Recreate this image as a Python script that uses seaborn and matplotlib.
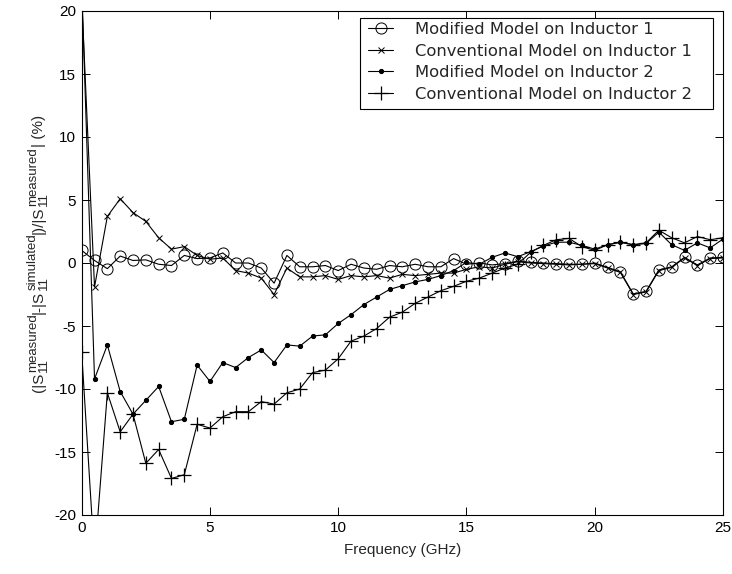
import numpy as np
import pandas as pd
import matplotlib
matplotlib.use("Agg")
import matplotlib.pyplot as plt
from matplotlib.patches import Rectangle
import seaborn as sns

# frequency grid (GHz)
freq = [0.0, 0.5, 1.0, 1.5, 2.0, 2.5, 3.0, 3.5, 4.0, 4.5,
        5.0, 5.5, 6.0, 6.5, 7.0, 7.5, 8.0, 8.5, 9.0, 9.5,
        10.0, 10.5, 11.0, 11.5, 12.0, 12.5, 13.0, 13.5, 14.0, 14.5,
        15.0, 15.5, 16.0, 16.5, 17.0, 17.5, 18.0, 18.5, 19.0, 19.5,
        20.0, 20.5, 21.0, 21.5, 22.0, 22.5, 23.0, 23.5, 24.0, 24.5, 25.0]

mod_ind1 = [1.0, 0.2, -0.45, 0.55, 0.2, 0.25, -0.1, -0.2, 0.6, 0.35,
            0.4, 0.8, 0.0, 0.0, -0.4, -1.6, 0.6, -0.3, -0.3, -0.2,
            -0.6, -0.1, -0.4, -0.5, -0.2, -0.3, -0.1, -0.3, -0.3, 0.35,
            -0.1, 0.0, -0.15, -0.05, 0.15, 0.05, 0.0, -0.05, -0.1, -0.1,
            0.0, -0.35, -0.7, -2.45, -2.25, -0.55, -0.3, 0.45, -0.15, 0.4, 0.45]

conv_ind1 = [21.0, -1.9, 3.7, 5.1, 4.0, 3.3, 2.0, 1.1, 1.3, 0.6,
             0.3, 0.4, -0.6, -0.8, -1.2, -2.5, -0.4, -1.1, -1.1, -1.0,
             -1.3, -1.0, -1.1, -1.0, -1.2, -0.9, -1.0, -0.9, -0.8, -0.8,
             -0.5, -0.3, -0.4, -0.1, 0.1, 0.0, -0.05, -0.1, -0.15, -0.1,
             -0.05, -0.4, -0.75, -2.5, -2.3, -0.6, -0.35, 0.4, -0.2, 0.35, 0.4]

mod_ind2 = [22.0, -9.2, -6.5, -10.2, -12.0, -10.9, -9.8, -12.6, -12.4, -8.1,
            -9.4, -7.9, -8.3, -7.5, -6.9, -7.9, -6.5, -6.6, -5.8, -5.7,
            -4.8, -4.1, -3.3, -2.7, -2.1, -1.8, -1.5, -1.3, -1.0, -0.6,
            0.05, -0.1, 0.45, 0.8, 0.5, 0.9, 1.35, 1.65, 1.65, 1.4,
            1.1, 1.45, 1.65, 1.45, 1.55, 2.45, 1.45, 1.0, 1.6, 1.2, 1.9]

conv_ind2 = [-7.1, -23.5, -10.3, -13.4, -12.0, -15.9, -14.8, -17.1, -16.8, -12.8,
             -13.1, -12.2, -11.8, -11.8, -11.0, -11.2, -10.3, -10.0, -8.7, -8.5,
             -7.6, -6.2, -5.8, -5.2, -4.3, -3.9, -3.2, -2.7, -2.2, -1.85,
             -1.45, -1.2, -0.8, -0.4, -0.1, 0.85, 1.4, 1.85, 1.95, 1.3,
             1.0, 1.45, 1.65, 1.45, 1.6, 2.6, 2.0, 1.6, 2.1, 1.85, 2.0]

labels = ["Modified Model on Inductor 1", "Conventional Model on Inductor 1",
          "Modified Model on Inductor 2", "Conventional Model on Inductor 2"]

df = pd.DataFrame({"freq": freq * 4,
                   "err": mod_ind1 + conv_ind1 + mod_ind2 + conv_ind2,
                   "series": np.repeat(labels, len(freq))})

sns.set_style("ticks", {"xtick.direction": "in", "ytick.direction": "in"})
plt.rcParams["font.family"] = ["Liberation Sans", "DejaVu Sans"]
plt.rcParams["axes.unicode_minus"] = False

W, H = 732, 574
fig = plt.figure(figsize=(W / 100, H / 100), dpi=100)
ax = fig.add_axes([81.7 / W, 59 / H, 641.3 / W, 504 / H])

styles = {
    labels[0]: dict(marker="o", markersize=8, markerfacecolor="none", markeredgewidth=0.7),
    labels[1]: dict(marker="x", markersize=5, markeredgewidth=0.7),
    labels[2]: dict(marker=".", markersize=6),
    labels[3]: dict(marker="+", markersize=10, markeredgewidth=0.9),
}
for lab in labels:
    sub = df[df["series"] == lab]
    sns.lineplot(data=sub, x="freq", y="err", ax=ax, color="black", linewidth=0.8,
                 label=lab, markeredgecolor="black", **styles[lab])

ax.set_xlim(0, 25)
ax.set_ylim(-20, 20)
ax.set_xticks([0, 5, 10, 15, 20, 25])
ax.set_yticks([-20, -15, -10, -5, 0, 5, 10, 15, 20])
ax.tick_params(axis="both", which="both", direction="in", top=True, right=True,
               length=5.5, width=0.7, labelsize=11, colors="black", pad=4)
for sp in ax.spines.values():
    sp.set_visible(True)
    sp.set_linewidth(0.8)
    sp.set_color("black")

ax.set_xlabel("Frequency (GHz)", fontsize=11, labelpad=6)
ax.set_ylabel("")

# y label built from pieces so that super/subscripts stay near full size
renderer = fig.canvas.get_renderer()


def text_len(s, size):
    t = fig.text(0, 0, s, fontsize=size)
    w = t.get_window_extent(renderer).width
    t.remove()
    return w


base_size, script_size = 11, 9.5
pieces = [("(|S", None, None), (None, "measured", "11"), ("|-|S", None, None),
          (None, "simulated", "11"), ("|)/|S", None, None), (None, "measured", "11"),
          ("| (%)", None, None)]
lengths = []
for base, sup, sb in pieces:
    if base is not None:
        lengths.append(text_len(base, base_size))
    else:
        lengths.append(max(text_len(sup, script_size), text_len(sb, script_size)))

x_base = 43.0
y_pos = (H - 253.5) - sum(lengths) / 2.0
for (base, sup, sb), ln in zip(pieces, lengths):
    if base is not None:
        fig.text(x_base / W, y_pos / H, base, fontsize=base_size, rotation=90,
                 rotation_mode="anchor", ha="left", va="baseline")
    else:
        fig.text((x_base - 7) / W, y_pos / H, sup, fontsize=script_size, rotation=90,
                 rotation_mode="anchor", ha="left", va="baseline")
        fig.text((x_base + 3.5) / W, y_pos / H, sb, fontsize=script_size, rotation=90,
                 rotation_mode="anchor", ha="left", va="baseline")
    y_pos += ln

# legend: frame drawn separately to get the wide right margin of the original
leg = ax.legend(loc="upper left", bbox_to_anchor=(368 / W, (H - 22) / H),
                bbox_transform=fig.transFigure, frameon=False,
                prop={"family": "DejaVu Sans", "size": 11.8},
                handlelength=1.55, borderpad=0, labelspacing=0.4,
                handletextpad=1.3, borderaxespad=0)
leg.set_zorder(6)
ax.add_patch(Rectangle((360 / W, (H - 109) / H), 353 / W, 91 / H,
                       transform=fig.transFigure, facecolor="white",
                       edgecolor="black", linewidth=0.8, zorder=5, clip_on=False))

fig.savefig("out.png", dpi=100)
